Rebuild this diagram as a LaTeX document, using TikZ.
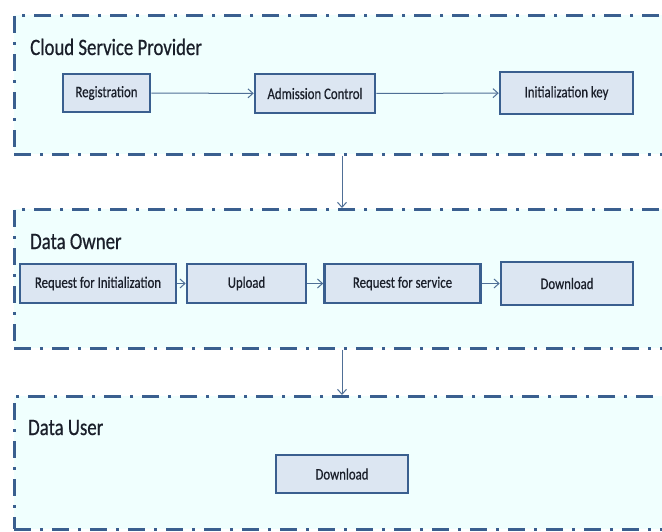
\documentclass[tikz,border=0pt]{standalone}
\usepackage{fontspec}
\setmainfont{Carlito}
\newfontfamily\titlefont[FakeStretch=0.8,FakeBold=0.6]{Carlito}
\newfontfamily\boxfont[FakeStretch=0.8,FakeBold=0.5]{Carlito}
\usetikzlibrary{arrows.meta}
\definecolor{edge}{HTML}{3A5F8F}
\definecolor{panelfill}{HTML}{F0FFFE}
\definecolor{boxfill}{HTML}{DCE6F2}
\definecolor{arrowc}{HTML}{4F6F96}
\definecolor{ink}{HTML}{1A1F2A}
\tikzset{
  panel/.style={draw=edge, fill=panelfill, line width=2.6pt,
    dash pattern=on 17pt off 9pt on 3pt off 9pt, rectangle, inner sep=0pt, anchor=north west},
  stepbox/.style={draw=edge, fill=boxfill, line width=2.6pt, rectangle, inner sep=0pt,
    font=\boxfont\fontsize{16}{18}\selectfont, text=ink},
  paneltitle/.style={anchor=base west, inner sep=0pt, font=\titlefont\fontsize{23.5}{26}\selectfont, text=ink},
  flow/.style={draw=arrowc, line width=1pt, -{Straight Barb[length=5pt,width=9pt]}}
}
\begin{document}
\begin{tikzpicture}[x=1pt,y=-1pt]
\useasboundingbox (0,0) rectangle (662,531);
\clip (0,0) rectangle (662,531);
% panels
\node[panel, minimum width=690pt, minimum height=139pt] (csp) at (13,14) {};
\node[panel, minimum width=690pt, minimum height=139pt] (own) at (13,208) {};
\node[panel, minimum width=690pt, minimum height=133pt] (usr) at (13,395) {};
% titles
\node[paneltitle] (t1) at (30,55) {Cloud Service Provider};
\node[paneltitle] (t2) at (30,249) {Data Owner};
\node[paneltitle] (t3) at (28,435) {Data User};
% boxes
\node[stepbox, minimum width=87pt, minimum height=38pt] (reg) at (106.5,93) {Registration};
\node[stepbox, minimum width=120pt, minimum height=39pt] (adm) at (315,93.5) {Admission Control};
\node[stepbox, minimum width=133pt, minimum height=42pt] (ini) at (566.5,93) {Initialization key};
\node[stepbox, minimum width=156pt, minimum height=39pt] (rfi) at (98,283.5) {Request for Initialization};
\node[stepbox, minimum width=119pt, minimum height=39pt] (upl) at (246.5,283.5) {Upload};
\node[stepbox, minimum width=156pt, minimum height=39pt] (rfs) at (402.5,283.5) {Request for service};
\node[stepbox, minimum width=132pt, minimum height=43pt] (dl) at (567,283.5) {Download};
\node[stepbox, minimum width=132pt, minimum height=38pt] (udl) at (342,474) {Download};
% connectors
\draw[flow] (reg) -- (adm);
\draw[flow] (adm) -- (ini);
\draw[flow] (rfi) -- (upl);
\draw[flow] (upl) -- (rfs);
\draw[flow] (rfs) -- (dl);
\draw[flow] (csp.south -| udl.center) -- (own.north -| udl.center);
\draw[flow] (own.south -| udl.center) -- (usr.north -| udl.center);
\end{tikzpicture}
\end{document}
